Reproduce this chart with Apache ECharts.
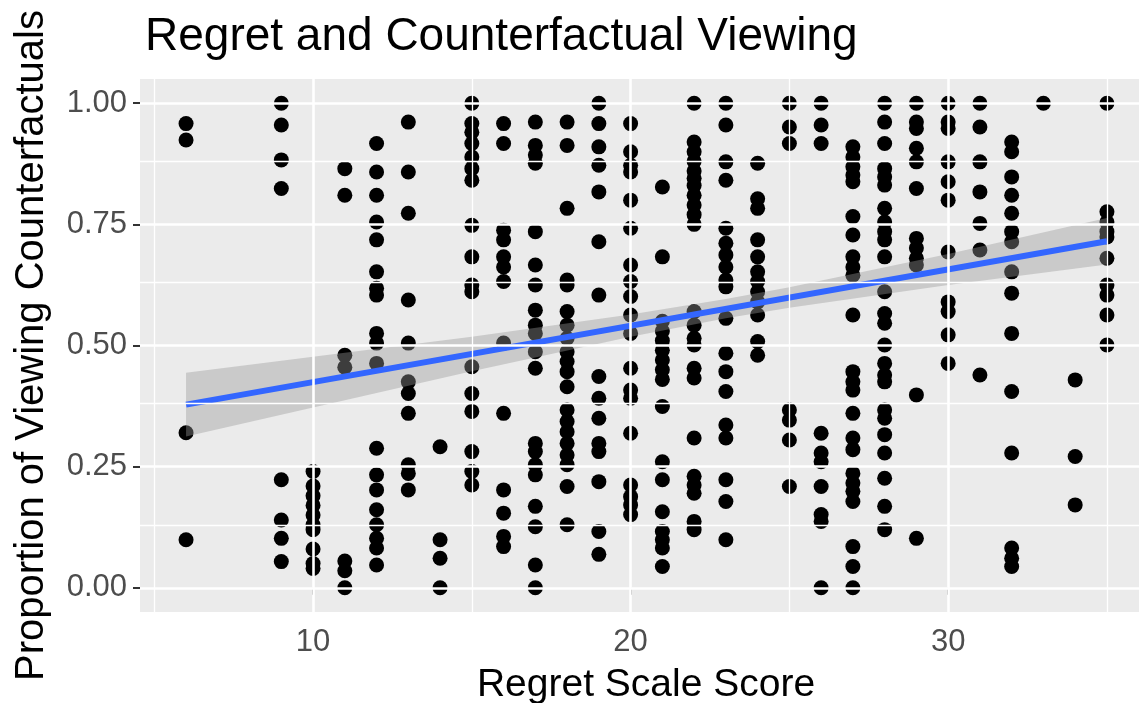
<!DOCTYPE html>
<html>
<head>
<meta charset="utf-8">
<script src="https://cdn.jsdelivr.net/npm/echarts@6/dist/echarts.min.js"></script>
<style>html,body{margin:0;padding:0;background:#fff}#c{width:1139px;height:703px}</style>
</head>
<body>
<div id="c"></div>
<script>
// ---- data ----
const scores = [6, 9, 10, 11, 12, 13, 14, 15, 16, 17, 18, 19, 20, 21, 22, 23, 24, 25, 26, 27, 28, 29, 30, 31, 32, 33, 34, 35];
const proportionsByScore = [
  [0.958, 0.924, 0.32, 0.099],
  [1.0, 0.955, 0.883, 0.824, 0.223, 0.14, 0.102, 0.054],
  [0.24, 0.21, 0.19, 0.17, 0.15, 0.13, 0.12, 0.08, 0.05, 0.04],
  [0.865, 0.81, 0.48, 0.455, 0.055, 0.035, 0.0],
  [0.917, 0.858, 0.81, 0.755, 0.718, 0.652, 0.618, 0.604, 0.525, 0.505, 0.463, 0.288, 0.233, 0.202, 0.161, 0.13, 0.102, 0.082, 0.047],
  [0.961, 0.858, 0.773, 0.594, 0.505, 0.425, 0.401, 0.36, 0.254, 0.236, 0.202],
  [0.291, 0.099, 0.061, 0.0],
  [1.0, 0.958, 0.94, 0.917, 0.889, 0.865, 0.841, 0.748, 0.683, 0.625, 0.611, 0.456, 0.401, 0.364, 0.281, 0.24, 0.212],
  [0.958, 0.917, 0.738, 0.718, 0.683, 0.662, 0.632, 0.505, 0.36, 0.202, 0.154, 0.106, 0.085],
  [0.961, 0.913, 0.893, 0.876, 0.735, 0.666, 0.625, 0.573, 0.542, 0.525, 0.487, 0.453, 0.298, 0.281, 0.254, 0.233, 0.168, 0.126, 0.047, 0.0],
  [0.961, 0.913, 0.783, 0.635, 0.625, 0.57, 0.542, 0.515, 0.487, 0.467, 0.446, 0.415, 0.367, 0.343, 0.322, 0.298, 0.274, 0.254, 0.209, 0.13],
  [1.0, 0.958, 0.91, 0.872, 0.817, 0.714, 0.604, 0.436, 0.391, 0.35, 0.298, 0.281, 0.219, 0.116, 0.069],
  [0.958, 0.9, 0.872, 0.858, 0.8, 0.742, 0.666, 0.632, 0.601, 0.563, 0.525, 0.453, 0.408, 0.391, 0.319, 0.212, 0.188, 0.171, 0.151],
  [0.827, 0.683, 0.55, 0.53, 0.51, 0.49, 0.47, 0.45, 0.43, 0.374, 0.26, 0.223, 0.157, 0.116, 0.099, 0.082, 0.044],
  [1.0, 0.92, 0.9, 0.88, 0.86, 0.845, 0.83, 0.81, 0.79, 0.77, 0.75, 0.57, 0.542, 0.515, 0.501, 0.453, 0.433, 0.309, 0.23, 0.212, 0.195, 0.137, 0.12],
  [1.0, 0.955, 0.879, 0.841, 0.742, 0.711, 0.687, 0.662, 0.635, 0.621, 0.556, 0.484, 0.446, 0.405, 0.336, 0.309, 0.223, 0.178, 0.099],
  [0.876, 0.803, 0.783, 0.718, 0.683, 0.652, 0.632, 0.611, 0.59, 0.563, 0.508, 0.48],
  [1.0, 0.951, 0.917, 0.367, 0.346, 0.305, 0.209],
  [1.0, 0.955, 0.917, 0.319, 0.278, 0.26, 0.209, 0.151, 0.137, 0.0],
  [0.91, 0.889, 0.869, 0.852, 0.838, 0.766, 0.728, 0.683, 0.662, 0.645, 0.563, 0.446, 0.425, 0.408, 0.36, 0.309, 0.285, 0.236, 0.216, 0.199, 0.178, 0.085, 0.044, 0.0],
  [1.0, 0.961, 0.917, 0.865, 0.848, 0.831, 0.783, 0.755, 0.735, 0.718, 0.683, 0.611, 0.566, 0.546, 0.501, 0.463, 0.439, 0.425, 0.367, 0.35, 0.316, 0.278, 0.226, 0.168, 0.12],
  [1.0, 0.961, 0.948, 0.907, 0.879, 0.824, 0.721, 0.701, 0.68, 0.666, 0.398, 0.102],
  [1.0, 0.961, 0.948, 0.879, 0.838, 0.8, 0.693, 0.59, 0.57, 0.522, 0.463],
  [1.0, 0.951, 0.879, 0.817, 0.752, 0.697, 0.439],
  [0.92, 0.9, 0.848, 0.81, 0.773, 0.735, 0.714, 0.652, 0.608, 0.525, 0.405, 0.278, 0.082, 0.061, 0.044],
  [1.0],
  [0.429, 0.271, 0.171],
  [1.0, 0.776, 0.755, 0.735, 0.724, 0.68, 0.625, 0.604, 0.563, 0.501]
];
// fitted linear trend
const fitX = [6, 35];
const fitY = [0.378, 0.715];
// confidence band
const bandX = [6, 10, 15, 20, 23, 25, 30, 35];
const bandLower = [0.312, 0.372, 0.447, 0.518, 0.556, 0.578, 0.625, 0.667];
const bandUpper = [0.444, 0.477, 0.518, 0.564, 0.596, 0.620, 0.689, 0.763];
// tick labels
const xTicks = [10, 20, 30];
const xMinorGrid = [5, 15, 25, 35];
const yTicks = [0, 0.25, 0.5, 0.75, 1.0];
const yMinorGrid = [0.125, 0.375, 0.625, 0.875];

const titleText = 'Regret and Counterfactual Viewing';
const xTitle = 'Regret Scale Score';
const yTitle = 'Proportion of Viewing Counterfactuals';

// ---- build ----
const points = [];
scores.forEach((s, i) => proportionsByScore[i].forEach(p => points.push([s, p])));
const fitData = fitX.map((x, i) => [x, fitY[i]]);

const FONT = '"Liberation Sans", Arial, Helvetica, sans-serif';
const gridMajor = { color: '#FFFFFF', width: 2.6, type: 'solid' };
const gridMinor = { color: '#FFFFFF', width: 1.3, type: 'solid' };
const gridLines = []
  .concat(xMinorGrid.map(v => ({ xAxis: v, lineStyle: gridMinor })))
  .concat(yMinorGrid.map(v => ({ yAxis: v, lineStyle: gridMinor })))
  .concat(xTicks.map(v => ({ xAxis: v, lineStyle: gridMajor })))
  .concat(yTicks.map(v => ({ yAxis: v, lineStyle: gridMajor })));

const chart = echarts.init(document.getElementById('c'), null, { renderer: 'canvas' });
chart.setOption({
  animation: false,
  backgroundColor: '#FFFFFF',
  title: {
    text: titleText, left: 140, top: 9,
    textStyle: { fontFamily: FONT, fontSize: 46, fontWeight: 'normal', color: '#000' }
  },
  grid: { left: 140, right: 0, top: 79, bottom: 91, show: true, backgroundColor: '#EBEBEB', borderWidth: 0,
    containLabel: false, outerBoundsMode: 'none' },
  xAxis: {
    type: 'value', min: 4.55, max: 36.01,
    name: xTitle, nameLocation: 'middle', nameGap: 54,
    nameTextStyle: { fontFamily: FONT, fontSize: 39, color: '#000', padding: [0, 0, 0, 13] },
    axisLine: { show: false },
    axisTick: { show: true, customValues: xTicks, length: 7, lineStyle: { color: '#333', width: 2 } },
    axisLabel: { customValues: xTicks, fontFamily: FONT, fontSize: 31, color: '#4D4D4D', margin: 15 },
    splitLine: { show: false }
  },
  yAxis: {
    type: 'value', min: -0.05, max: 1.05,
    name: yTitle, nameLocation: 'middle', nameGap: 88,
    nameTextStyle: { fontFamily: FONT, fontSize: 40, color: '#000' },
    axisLine: { show: false },
    axisTick: { show: true, customValues: yTicks, length: 7, lineStyle: { color: '#333', width: 2 } },
    axisLabel: { customValues: yTicks, fontFamily: FONT, fontSize: 31, color: '#4D4D4D', margin: 13,
      formatter: v => Number(v).toFixed(2) },
    splitLine: { show: false }
  },
  series: [
    {
      type: 'scatter', z: 1, silent: true, symbolSize: 0, data: [[20, 0.5]],
      markLine: { silent: true, symbol: ['none', 'none'], label: { show: false }, data: gridLines }
    },
    {
      type: 'scatter', z: 2, symbol: 'circle', symbolSize: 15,
      itemStyle: { color: '#000000', opacity: 1 }, data: points
    },
    {
      type: 'custom', z: 3, silent: true, data: [[0]],
      renderItem: function (params, api) {
        const pts = [];
        bandX.forEach((x, i) => pts.push(api.coord([x, bandUpper[i]])));
        for (let i = bandX.length - 1; i >= 0; i--) pts.push(api.coord([bandX[i], bandLower[i]]));
        return { type: 'polygon', shape: { points: pts }, style: { fill: 'rgba(153,153,153,0.4)' } };
      }
    },
    {
      type: 'line', z: 4, silent: true, symbol: 'none', data: fitData,
      lineStyle: { color: '#3366FF', width: 6 }
    }
  ]
});
</script>
</body>
</html>
